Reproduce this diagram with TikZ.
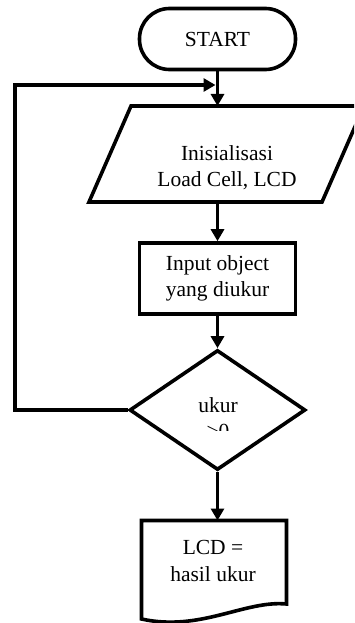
\documentclass[tikz,border=0pt]{standalone}
\usepackage{fontspec}
\setmainfont{Liberation Serif}
\usetikzlibrary{arrows.meta,shapes.geometric}
\begin{document}
\begin{tikzpicture}[x=1pt,y=-1pt,line width=3.6pt,
  >={Triangle[length=12pt,width=13pt]},
  txt/.style={font=\fontsize{21.5}{26.5}\selectfont,align=center,inner sep=0pt},
  terminal/.style={txt,draw,rounded corners=30pt,minimum width=156pt,minimum height=61pt},
  procbox/.style={txt,draw,minimum width=156pt,minimum height=71pt},
  decision/.style={draw,diamond,inner sep=0pt,minimum width=176pt,minimum height=120pt}]
\useasboundingbox (0,0) rectangle (354,623);
\clip (0,0) rectangle (354,623);
\coordinate (A1) at (131,106);
\coordinate (A2) at (364,106);
\coordinate (A3) at (322,202);
\coordinate (A4) at (89,202);
\coordinate (parT) at (217.5,106);
\coordinate (parB) at (217.5,202);
\coordinate (join) at (217.5,85);
\coordinate (loopT) at (15,85);
\coordinate (D1) at (141.5,520.5);
\coordinate (D2) at (286.5,520.5);
\coordinate (D3) at (286.5,604);
\coordinate (D4) at (141.5,619);
\coordinate (docT) at (217.5,520.5);
\node[terminal] (start) at (217.5,39) {START};
\draw (A1)--(A2)--(A3)--(A4)--cycle;
\node[txt] (init) at (227,167.5) {Inisialisasi\\Load Cell, LCD};
\node[procbox] (input) at (217.5,278.5) {Input object\\yang diukur};
\node[decision] (dec) at (217.5,410) {};
\begin{scope}
\clip (130,350) rectangle (306,430);
\node[txt] (cond) at (218,418) {ukur\\>0};
\end{scope}
\draw (D1)--(D2)--(D3) .. controls (245,600) and (200,632) .. (D4)--cycle;
\node[txt] (out) at (213,561) {LCD =\\hasil ukur};
\draw[->] (start.south) -- (parT);
\draw[->] (parB) -- (input.north);
\draw[->] (input.south) -- (dec.north);
\draw[->] (dec.south) -- (docT);
\draw[->,shorten >=2pt] (dec.west) -| (loopT) -- (join);
\end{tikzpicture}
\end{document}
